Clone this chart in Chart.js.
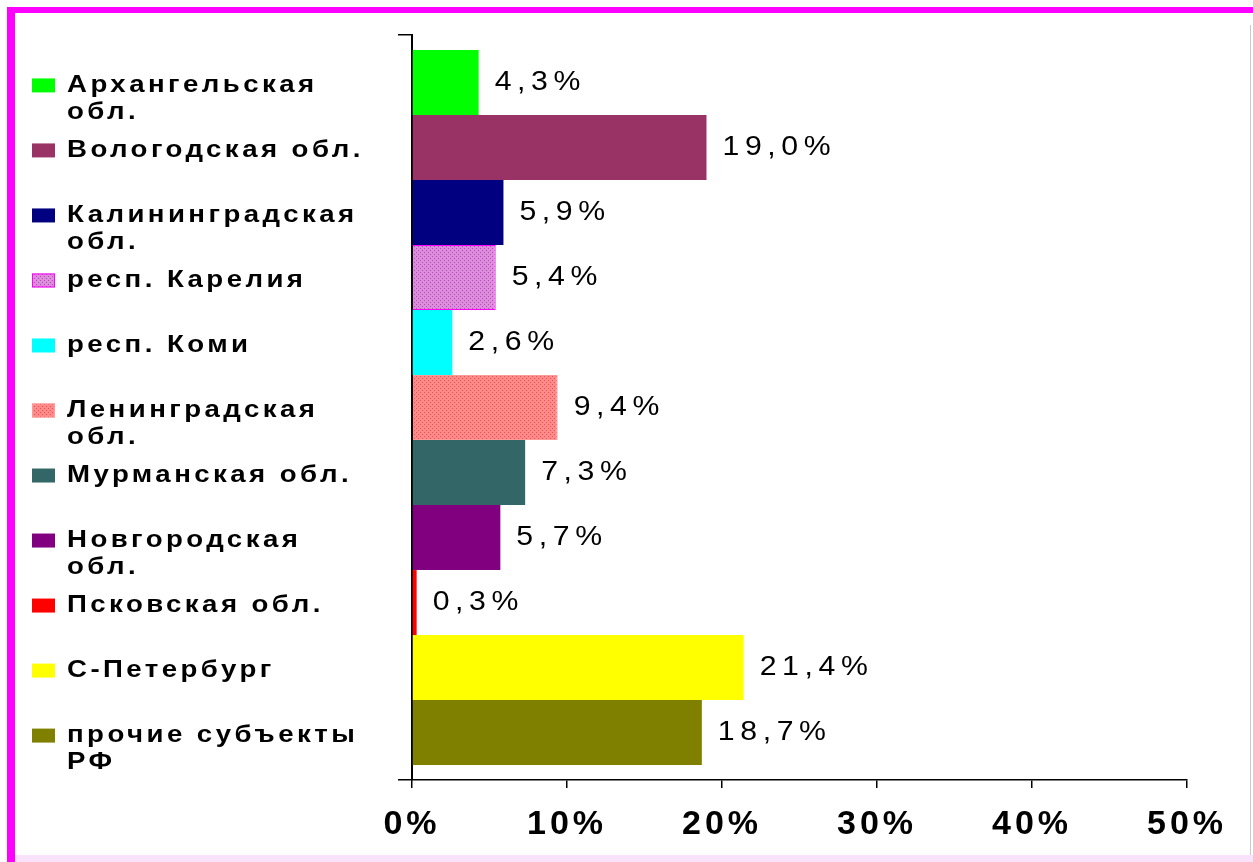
<!DOCTYPE html>
<html>
<head>
<meta charset="utf-8">
<script src="https://cdn.jsdelivr.net/npm/chart.js@4"></script>
<style>
  body { margin: 0; background: #fff; }
  #wrap { position: relative; width: 1253px; height: 862px; }
  .edge { position: absolute; }
</style>
</head>
<body>
<div id="wrap">
  <canvas id="myChart"></canvas>
  <div class="edge" style="left:7px;top:7px;width:1246px;height:6px;background:#ff00ff"></div>
  <div class="edge" style="left:7px;top:7px;width:8px;height:855px;background:#ff00ff"></div>
  <div class="edge" style="left:15px;top:855px;width:1238px;height:7px;background:#fbe2fb"></div>
  <div class="edge" style="left:1250px;top:25px;width:1px;height:830px;background:#c8c8c8"></div>
</div>
<script>
const regions = [
  ['Архангельская', 'обл.'],
  ['Вологодская обл.'],
  ['Калининградская', 'обл.'],
  ['респ. Карелия'],
  ['респ. Коми'],
  ['Ленинградская', 'обл.'],
  ['Мурманская обл.'],
  ['Новгородская', 'обл.'],
  ['Псковская обл.'],
  ['С-Петербург'],
  ['прочие субъекты', 'РФ']
];
const shares = [4.3, 19.0, 5.9, 5.4, 2.6, 9.4, 7.3, 5.7, 0.3, 21.4, 18.7];
const xTicks = [0, 10, 20, 30, 40, 50];

const FONT = "'Liberation Sans', Arial, sans-serif";
const ctx = document.getElementById('myChart');
const c2d = ctx.getContext('2d');

function makePattern(bg, dot) {
  const t = document.createElement('canvas');
  t.width = 4; t.height = 4;
  const g = t.getContext('2d');
  g.fillStyle = bg;
  g.fillRect(0, 0, 4, 4);
  g.fillStyle = dot;
  g.fillRect(0, 0, 1, 1);
  g.fillRect(2, 2, 1, 1);
  return c2d.createPattern(t, 'repeat');
}

const colors = [
  '#00ff00', '#993366', '#000080',
  makePattern('#dc8edc', '#b848b8'),
  '#00ffff',
  makePattern('#ff8a8a', '#e25050'),
  '#336666', '#800080', '#ff0000', '#ffff00', '#808000'
];
const borders = colors.map((c, i) => i === 3 ? '#ff00ff' : (i === 5 ? '#ff9a9a' : 'rgba(0,0,0,0)'));

// the old excel text is wide, so stretch it a bit
function wideText(g, text, x, y, sx) {
  g.save();
  g.translate(x, y);
  g.scale(sx, 1);
  g.fillText(text, 0, 0);
  g.restore();
}

// legend drawn next to each bar, like the excel one
const sideLegend = {
  id: 'sideLegend',
  afterDraw(chart) {
    const g = chart.ctx;
    g.save();
    g.font = 'bold 24px ' + FONT;
    g.letterSpacing = '3px';
    g.textBaseline = 'middle';
    g.textAlign = 'left';
    chart.data.datasets.forEach((ds, i) => {
      const el = chart.getDatasetMeta(i).data[0];
      const y = el.y + 3;
      g.fillStyle = ds.backgroundColor;
      g.fillRect(32, y - 7, 23, 14);
      if (ds.borderWidth) {
        g.strokeStyle = ds.borderColor;
        g.lineWidth = 1;
        g.strokeRect(32.5, y - 6.5, 22, 13);
      }
      g.fillStyle = '#000';
      regions[i].forEach((line, k) => wideText(g, line, 67, y + k * 27, 1.15));
    });
    g.restore();
  }
};

const valueLabels = {
  id: 'valueLabels',
  afterDatasetsDraw(chart) {
    const g = chart.ctx;
    g.save();
    g.font = '27px ' + FONT;
    g.letterSpacing = '5px';
    g.textBaseline = 'middle';
    g.textAlign = 'left';
    g.fillStyle = '#000';
    chart.data.datasets.forEach((ds, i) => {
      const el = chart.getDatasetMeta(i).data[0];
      wideText(g, ds.data[0].toFixed(1).replace('.', ',') + '%', el.x + 16, el.y, 1.12);
    });
    g.restore();
  }
};

const spacedTicks = {
  id: 'spacedTicks',
  beforeDraw(chart) { chart.ctx.letterSpacing = '4px'; },
  afterDraw(chart) { chart.ctx.letterSpacing = '0px'; }
};

new Chart(ctx, {
  type: 'bar',
  data: {
    labels: [''],
    datasets: shares.map((v, i) => ({
      label: regions[i].join(' '),
      data: [v],
      backgroundColor: colors[i],
      borderColor: borders[i],
      borderWidth: (i === 3 || i === 5) ? 1 : 0,
      categoryPercentage: 0.96,
      barPercentage: 1.0
    }))
  },
  options: {
    indexAxis: 'y',
    responsive: true,
    maintainAspectRatio: false,
    animation: false,
    layout: { padding: { left: 398, right: 66, top: 35, bottom: 22 } },
    plugins: { legend: { display: false }, tooltip: { enabled: false } },
    scales: {
      x: {
        min: xTicks[0],
        max: xTicks[xTicks.length - 1],
        afterBuildTicks: (s) => { s.ticks = xTicks.map(v => ({ value: v })); },
        afterFit: (s) => { s.height = 60; },
        ticks: {
          callback: v => v + '%',
          color: '#000',
          font: { family: FONT, size: 34, weight: 'bold' },
          padding: 16,
          maxRotation: 0
        },
        grid: { drawOnChartArea: false, drawTicks: true, tickLength: 8, color: '#000', lineWidth: 1.5 },
        border: { display: true, color: '#000', width: 1.5 }
      },
      y: {
        afterFit: (s) => { s.width = 14; },
        ticks: { display: false },
        grid: { drawOnChartArea: false, drawTicks: true, tickLength: 14, color: '#000', lineWidth: 1.5, offset: true },
        border: { display: true, color: '#000', width: 2 }
      }
    }
  },
  plugins: [spacedTicks, valueLabels, sideLegend]
});
</script>
</body>
</html>
